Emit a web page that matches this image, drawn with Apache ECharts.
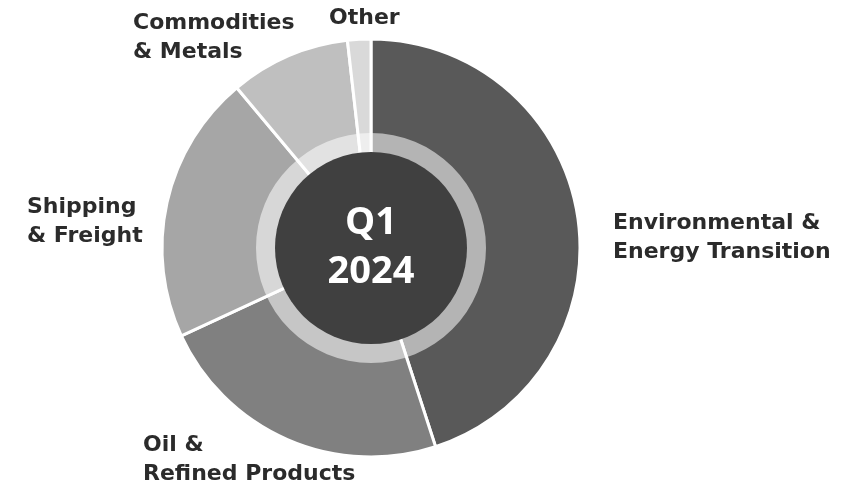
<!DOCTYPE html>
<html>
<head>
<meta charset="utf-8">
<script src="https://cdn.jsdelivr.net/npm/echarts@6/dist/echarts.min.js"></script>
<style>html,body{margin:0;padding:0;background:#fff}#c{width:854px;height:486px}</style>
</head>
<body>
<div id="c"></div>
<script>
const categories = ['Environmental &\nEnergy Transition', 'Oil &\nRefined Products', 'Shipping\n& Freight', 'Commodities\n& Metals', 'Other'];
const values = [45, 23.1, 20.8, 9.3, 1.8];
const colors = ['#595959', '#808080', '#a6a6a6', '#bfbfbf', '#d9d9d9'];
const centerText = 'Q1\n2024';

const labelSpots = [
  {x: 613, y: 238},
  {x: 143, y: 460},
  {x: 27, y: 222},
  {x: 133, y: 38},
  {x: 329, y: 18}
];

const chart = echarts.init(document.getElementById('c'));
chart.setOption({
  animation: false,
  series: [
    {
      type: 'pie',
      center: [371, 248],
      radius: [80, 209],
      startAngle: 90,
      clockwise: true,
      silent: true,
      data: categories.map((c, i) => ({name: c, value: values[i], itemStyle: {color: colors[i]}})),
      itemStyle: {borderColor: '#ffffff', borderWidth: 3},
      label: {
        show: true,
        position: 'outside',
        formatter: '{b}',
        color: '#2b2b2b',
        fontFamily: 'DejaVu Sans',
        fontWeight: 'bold',
        fontSize: 22,
        lineHeight: 29,
        align: 'left',
        overflow: 'none',
        width: 400
      },
      labelLine: {show: false},
      labelLayout: function (p) {
        const s = labelSpots[p.dataIndex];
        return {x: s.x, y: s.y, align: 'left', verticalAlign: 'middle', hideOverlap: false, moveOverlap: false};
      }
    },
    {
      type: 'pie',
      center: [371, 248],
      radius: [95, 115],
      silent: true,
      z: 3,
      label: {show: false},
      labelLine: {show: false},
      data: [{value: 1, itemStyle: {color: 'rgba(255,255,255,0.55)'}}]
    },
    {
      type: 'pie',
      center: [371, 248],
      radius: [0, 96],
      silent: true,
      z: 4,
      data: [{value: 1, name: centerText, itemStyle: {color: '#404040'}}],
      label: {
        show: true,
        position: 'center',
        formatter: '{b}',
        color: '#ffffff',
        fontFamily: 'Open Sans',
        fontWeight: 'bold',
        fontSize: 38,
        lineHeight: 49,
        padding: [7, 0, 0, 0]
      },
      labelLine: {show: false}
    }
  ]
});
</script>
</body>
</html>
